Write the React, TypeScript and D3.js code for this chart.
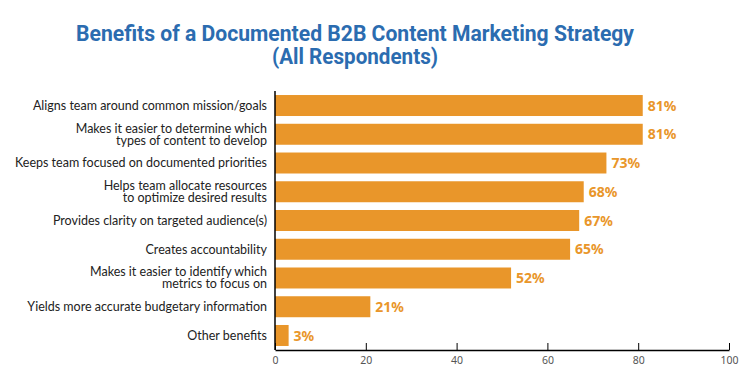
import { useEffect, useRef } from 'react';
import * as d3 from 'd3';

// chart data
const categories = [
  ['Aligns team around common mission/goals'],
  ['Makes it easier to determine which', 'types of content to develop'],
  ['Keeps team focused on documented priorities'],
  ['Helps team allocate resources', 'to optimize desired results'],
  ['Provides clarity on targeted audience(s)'],
  ['Creates accountability'],
  ['Makes it easier to identify which', 'metrics to focus on'],
  ['Yields more accurate budgetary information'],
  ['Other benefits'],
];
const values = [81, 81, 73, 68, 67, 65, 52, 21, 3];
const xTicks = [0, 20, 40, 60, 80, 100];
const titleLines = ['Benefits of a Documented B2B Content Marketing Strategy', '(All Respondents)'];

const width = 742;
const height = 366;
const margin = { top: 91, right: 13, bottom: 16, left: 275 };
const barColor = '#E9962A';
const titleColor = '#2B6CB0';

export default function App() {
  const svgRef = useRef<SVGSVGElement>(null);

  useEffect(() => {
    if (!svgRef.current) return;
    const svg = d3.select(svgRef.current);
    svg.selectAll('*').remove();

    const innerWidth = width - margin.left - margin.right;
    const innerHeight = height - margin.top - margin.bottom;

    const x = d3.scaleLinear().domain([0, 100]).range([0, innerWidth]);
    const y = d3.scaleBand<number>()
      .domain(d3.range(values.length))
      .range([0, innerHeight])
      .paddingInner(0.27)
      .paddingOuter(0.14);

    // title
    titleLines.forEach((line, i) => {
      svg.append('text')
        .attr('x', 355)
        .attr('y', 41 + i * 23)
        .attr('text-anchor', 'middle')
        .style('font-family', '"Liberation Sans Narrow", "Roboto", sans-serif')
        .style('font-weight', 'bold')
        .style('font-size', '22px')
        .style('fill', titleColor)
        .attr('textLength', i === 0 ? 558 : 166)
        .attr('lengthAdjust', 'spacingAndGlyphs')
        .text(line);
    });

    const g = svg.append('g')
      .attr('transform', `translate(${margin.left},${margin.top})`);

    // bars
    g.selectAll('rect.bar')
      .data(values)
      .join('rect')
      .attr('class', 'bar')
      .attr('x', 0)
      .attr('y', (_, i) => y(i)!)
      .attr('width', d => x(d))
      .attr('height', y.bandwidth())
      .attr('fill', barColor);

    // value labels
    g.selectAll('text.value')
      .data(values)
      .join('text')
      .attr('class', 'value')
      .attr('x', d => x(d) + 5)
      .attr('y', (_, i) => y(i)! + y.bandwidth() / 2)
      .attr('dy', '0.36em')
      .style('font-family', '"Noto Sans", sans-serif')
      .style('font-weight', 'bold')
      .style('font-size', '14px')
      .style('fill', barColor)
      .text(d => `${d}%`);

    // category labels
    categories.forEach((lines, i) => {
      const cy = y(i)! + y.bandwidth() / 2;
      const t = g.append('text')
        .attr('x', -8)
        .attr('text-anchor', 'end')
        .style('font-family', 'Lato, sans-serif')
        .style('font-size', '12.5px')
        .style('fill', '#222');
      lines.forEach((line, j) => {
        t.append('tspan')
          .attr('x', -8)
          .attr('y', cy + (j - (lines.length - 1) / 2) * 12)
          .attr('dy', '0.35em')
          .text(line);
      });
    });

    // x axis
    const xAxis = d3.axisBottom(x)
      .tickValues(xTicks)
      .tickSizeInner(-7)
      .tickSizeOuter(0)
      .tickPadding(7);

    const ax = g.append('g')
      .attr('transform', `translate(0,${innerHeight})`)
      .call(xAxis);
    ax.select('.domain').attr('stroke', '#000').attr('stroke-width', 1.5);
    ax.selectAll('.tick line').attr('stroke', '#000');
    ax.selectAll('.tick text')
      .style('font-family', '"Noto Sans", sans-serif')
      .style('font-size', '10.5px')
      .style('fill', '#555');

    // y axis line
    g.append('line')
      .attr('x1', 0).attr('x2', 0)
      .attr('y1', 0).attr('y2', innerHeight)
      .attr('stroke', '#000')
      .attr('stroke-width', 1.5);
  }, []);

  return (
    <svg
      ref={svgRef}
      width={width}
      height={height}
      style={{ position: 'absolute', left: 0, top: 0, background: '#fff' }}
    />
  );
}
